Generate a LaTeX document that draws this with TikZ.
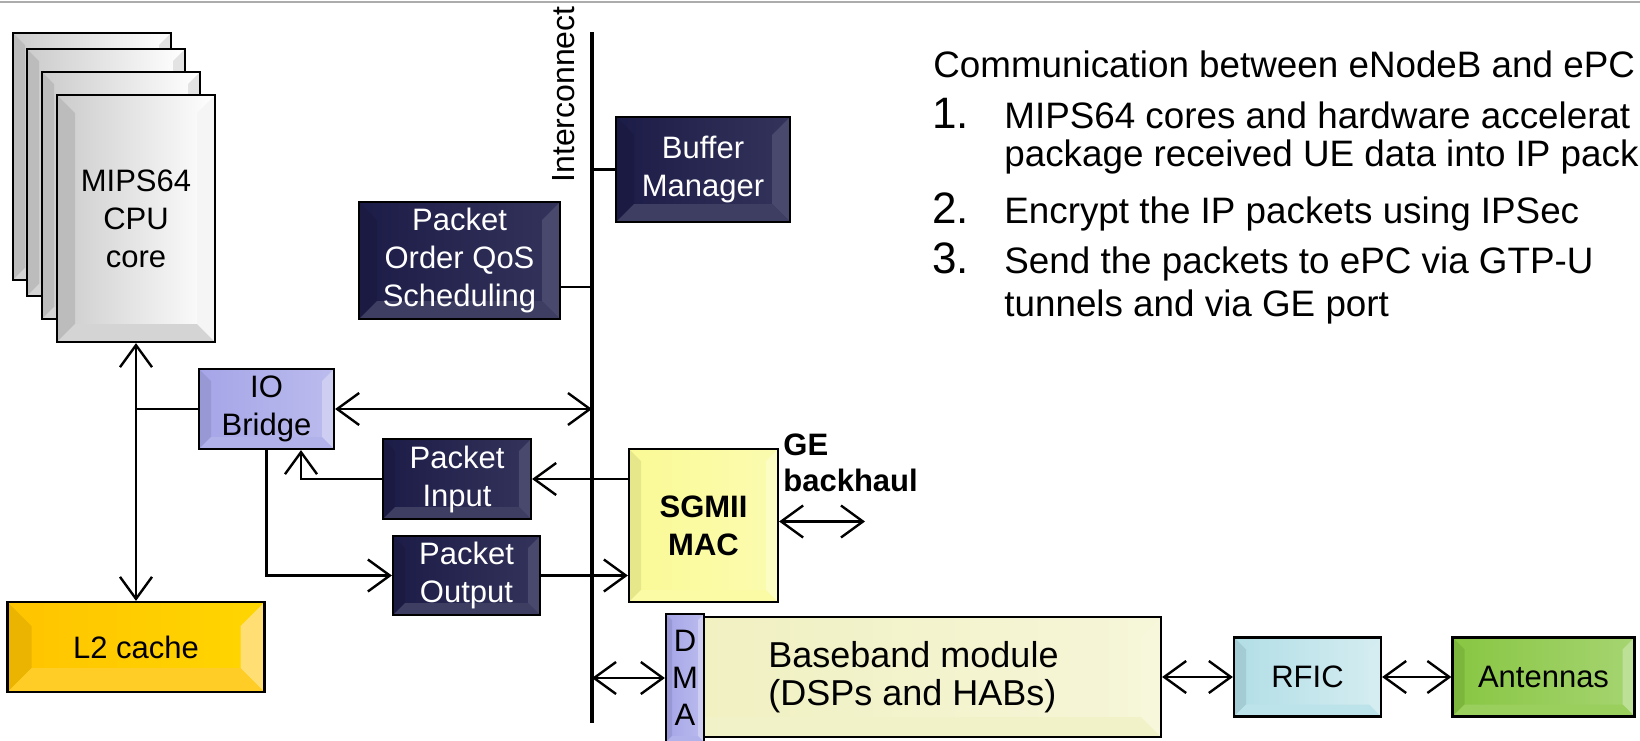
\documentclass[tikz,border=0pt]{standalone}
\usepackage{fontspec}
\setmainfont{Liberation Sans}
\usetikzlibrary{positioning,arrows.meta,calc}
\definecolor{cpugray}{RGB}{204,204,204}
\definecolor{navy}{RGB}{28,28,72}
\definecolor{lavender}{RGB}{165,165,232}
\definecolor{paleyellow}{RGB}{250,250,150}
\definecolor{gold}{RGB}{255,196,0}
\definecolor{cream}{RGB}{240,240,192}
\definecolor{paleblue}{RGB}{178,222,230}
\definecolor{leafgreen}{RGB}{136,198,66}
\tikzset{
    on grid,
    >={Straight Barb[length=11pt,width=16pt]},
    bevel width/.store in=\bevw,
    bevel width=6pt,
    bevel light/.store in=\bevl,
    bevel light=55,
    block/.style = {
        draw,
        shape=rectangle,
        left color=#1,
        right color=#1!75!white,
        line width=1.1pt,
        inner sep=0pt,
        align=center,
        font=\fontsize{15.5}{19}\selectfont,
        path picture={
            \coordinate (pp sw) at (path picture bounding box.south west);
            \coordinate (pp ne) at (path picture bounding box.north east);
            \coordinate (pp se) at (path picture bounding box.south east);
            \coordinate (pp nw) at (path picture bounding box.north west);
            \fill[#1!\bevl!white] (pp ne) -- (pp se) -- ([shift={(-\bevw,\bevw)}]pp se) -- ([shift={(-\bevw,-\bevw)}]pp ne) -- cycle;
            \fill[#1!92!black] (pp nw) -- (pp sw) -- ([shift={(\bevw,\bevw)}]pp sw) -- ([shift={(\bevw,-\bevw)}]pp nw) -- cycle;
            \fill[#1!85!white] (pp sw) -- (pp se) -- ([shift={(-\bevw,\bevw)}]pp se) -- ([shift={(\bevw,\bevw)}]pp sw) -- cycle;
        }
    },
    dark/.style = {
        block=navy,
        right color=navy!90!white,
        bevel light=80,
        text=white
    },
    link/.style = {
        line width=1.2pt
    },
    listtext/.style = {
        inner sep=0pt,
        anchor=base west,
        font=\fontsize{18.4}{22}\selectfont
    },
    listnum/.style = {
        inner sep=0pt,
        anchor=base west,
        font=\fontsize{22}{26}\selectfont
    },
}

\begin{document}
\begin{tikzpicture}[x=1pt, y=1pt]
        \useasboundingbox (0,0) rectangle (820,-370);
        \draw[gray!65, line width=1pt] (0,-1.2) -- (820,-1.2);

        % processor side
        \foreach \dx/\dy [count=\i] in {-22/31, -15/23, -7.5/11.5}
            \node[block=cpugray, right color=white, minimum width=79pt, minimum height=123.5pt] (cpuback\i) at (68+\dx,-109.25+\dy) {};
        \node[block=cpugray, right color=white, minimum width=79pt, minimum height=123.5pt, bevel width=9pt, bevel light=20] (cpu) at (68,-109.25) {MIPS64\\CPU\\core};
        \node[block=gold, right color=gold!70!yellow, minimum width=128.5pt, minimum height=45pt, bevel width=12pt, below of=cpu, node distance=214.25pt] (l2) {L2 cache};
        \node[block=lavender, minimum width=67.5pt, minimum height=40pt] (io) at (133.25,-204.5) {IO\\Bridge};

        % interconnect
        \coordinate (ictop) at (296,-16);
        \coordinate (icbot) at (296,-361.5);
        \coordinate (icqos) at (296,-143.5);
        \draw[line width=1.65pt] (ictop) -- (icbot);
        \node[rotate=90, inner sep=0pt, font=\fontsize{16}{19}\selectfont] (iclabel) at (282,-47.25) {Interconnect};

        \node[dark, minimum width=87pt, minimum height=52.5pt, bevel width=9pt] (buf) at (351.5,-84.75) {Buffer\\Manager};
        \node[dark, minimum width=100.5pt, minimum height=58.5pt, bevel width=9pt] (qos) at (229.75,-130.25) {Packet\\Order QoS\\Scheduling};
        \node[dark, minimum width=74pt, minimum height=40pt] (pin) at (228.5,-239.5) {Packet\\Input};
        \node[dark, minimum width=73.5pt, minimum height=39.5pt] (pout) at (233.25,-287.75) {Packet\\Output};
        \node[block=paleyellow, minimum width=74.5pt, minimum height=76.5pt, font=\bfseries\fontsize{15.5}{19}\selectfont] (sgmii) at (351.75,-262.75) {SGMII\\MAC};
        \node[anchor=north west, inner sep=0pt, align=left, font=\bfseries\fontsize{15.5}{18}\selectfont] (ge) at (391.5,-216.5) {GE\\backhaul};
        \coordinate (geend) at (432.5,-260.75);

        % radio side
        \node[block=cream, right color=cream!60!white, minimum width=247.5pt, minimum height=60pt, bevel width=10pt, align=left, font=\fontsize{18}{19}\selectfont] (bb) at (456.75,-338.5) {Baseband module\\(DSPs and HABs)};
        \node[block=lavender, bevel width=3pt, minimum width=19pt, minimum height=64pt, font=\fontsize{15.5}{18.5}\selectfont] (dma) at (342.5,-339) {D\\M\\A};
        \node[block=paleblue, right color=paleblue!55!white, minimum width=73.5pt, minimum height=39.5pt, right of=bb, node distance=197pt] (rfic) {RFIC};
        \node[block=leafgreen, minimum width=91pt, minimum height=39.5pt, right of=rfic, node distance=118pt] (ant) {Antennas};

        \path[draw, link, <->] (cpu.south) -- (l2.north);
        \path[draw, link] (io.west) -- (io.west -| cpu.south);
        \path[draw, link, <->] (io.east) -- (io.east -| ictop);
        \path[draw, link] (buf.west) -- (buf.west -| ictop);
        \path[draw, link] (qos.east |- icqos) -- (icqos);
        \path[draw, link, ->] (sgmii.west |- pin.east) -- (pin.east);
        \path[draw, link, ->] (pin.west) -| ([xshift=17.25pt]io.south);
        \path[draw, link, ->] (io.south) |- (pout.west);
        \path[draw, link, ->] (pout.east) -- (pout.east -| sgmii.west);
        \path[draw, link, <->] (sgmii.east |- geend) -- (geend);
        \path[draw, link, <->] (dma.west -| ictop) -- (dma.west);
        \path[draw, link, <->] (bb.east) -- (rfic.west);
        \path[draw, link, <->] (rfic.east) -- (ant.west);

        % text
        \node[listtext] (intro) at (466.5,-38.5) {Communication between eNodeB and ePC};
        \node[listnum] (n1) at (466,-64) {1.};
        \node[listtext] (s1a) at (502,-64) {MIPS64 cores and hardware accelerat};
        \node[listtext] (s1b) at (502,-83.3) {package received UE data into IP pack};
        \node[listnum] (n2) at (466,-111.7) {2.};
        \node[listtext] (s2) at (502,-111.7) {Encrypt the IP packets using IPSec};
        \node[listnum] (n3) at (466,-136.7) {3.};
        \node[listtext] (s3a) at (502,-136.7) {Send the packets to ePC via GTP-U};
        \node[listtext] (s3b) at (502,-158.3) {tunnels and via GE port};
    \end{tikzpicture}
\end{document}
